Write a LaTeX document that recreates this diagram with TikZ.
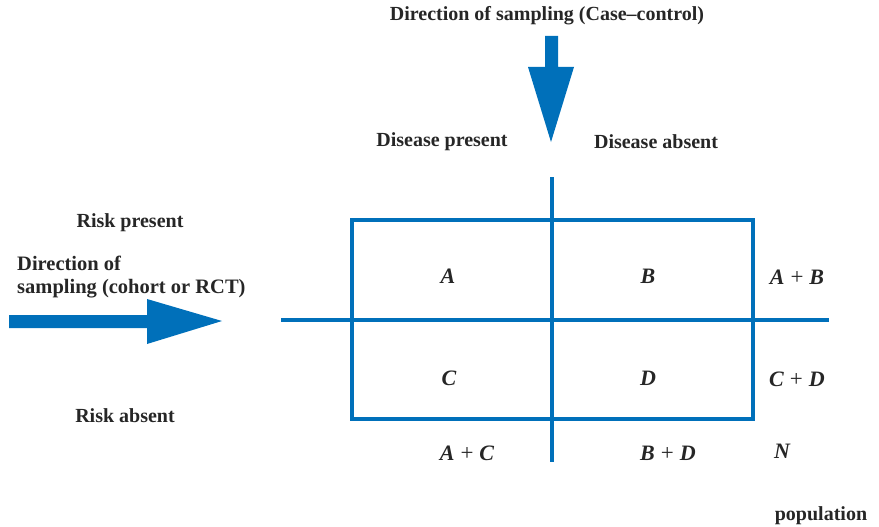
\documentclass[tikz,border=0pt]{standalone}
\usepackage{fontspec}
\setmainfont{Liberation Serif}
\definecolor{bl}{RGB}{0,112,186}
\newcommand{\plusop}{\hspace{6pt}{\upshape\mdseries\fontsize{23}{24}\selectfont +}\hspace{6pt}}
\begin{document}
\begin{tikzpicture}[x=1pt,y=-1pt,
  lbl/.style={font=\fontsize{20}{23}\selectfont\bfseries, text=black!85, inner sep=0pt},
  cell/.style={font=\fontsize{22}{24}\selectfont\bfseries\itshape, text=black!85, inner sep=0pt},
  grid/.style={draw=bl, line width=4pt},
  bigarrow/.style={fill=bl, draw=none}]
\useasboundingbox (0,0) rectangle (879,527);
% table frame
\draw[grid] (352,220) rectangle (753,419);
\coordinate (vt) at (552,177);
\coordinate (vb) at (552,462);
\coordinate (hl) at (281,320);
\coordinate (hr) at (829,320);
\draw[grid] (vt) -- (vb);
\draw[grid] (hl) -- (hr);
% top arrow
\fill[bigarrow] (545,36) -- (558,36) -- (558,67) -- (574,67) -- (551,142) -- (528,67) -- (545,67) -- cycle;
% left arrow
\fill[bigarrow] (9,315) -- (147,315) -- (147,299) -- (222,321) -- (147,344) -- (147,328) -- (9,328) -- cycle;
% labels
\node[lbl] (top) at (547,16) {Direction of sampling (Case–control)};
\node[lbl] (dp) at (442,142) {Disease present};
\node[lbl] (da) at (656,142) {Disease absent};
\node[lbl] (rp) at (130,223) {Risk present};
\node[lbl, anchor=north west, align=left, font=\fontsize{20.5}{23}\selectfont\bfseries] (left) at (17,256) {Direction of\\sampling (cohort or RCT)};
\node[lbl] (ra) at (125,416) {Risk absent};
\node[lbl] (pop) at (821,516) {population};
% cells
\node[cell] (a) at (448,276) {A};
\node[cell] (b) at (648,276) {B};
\node[cell] (c) at (449,378) {C};
\node[cell] (d) at (648,378) {D};
\node[cell] (ab) at (797,277) {A\plusop B};
\node[cell] (cd) at (797,379) {C\plusop D};
\node[cell] (ac) at (467,453) {A\plusop C};
\node[cell] (bd) at (668,453) {B\plusop D};
\node[cell] (n) at (782,451) {N};
\end{tikzpicture}
\end{document}
